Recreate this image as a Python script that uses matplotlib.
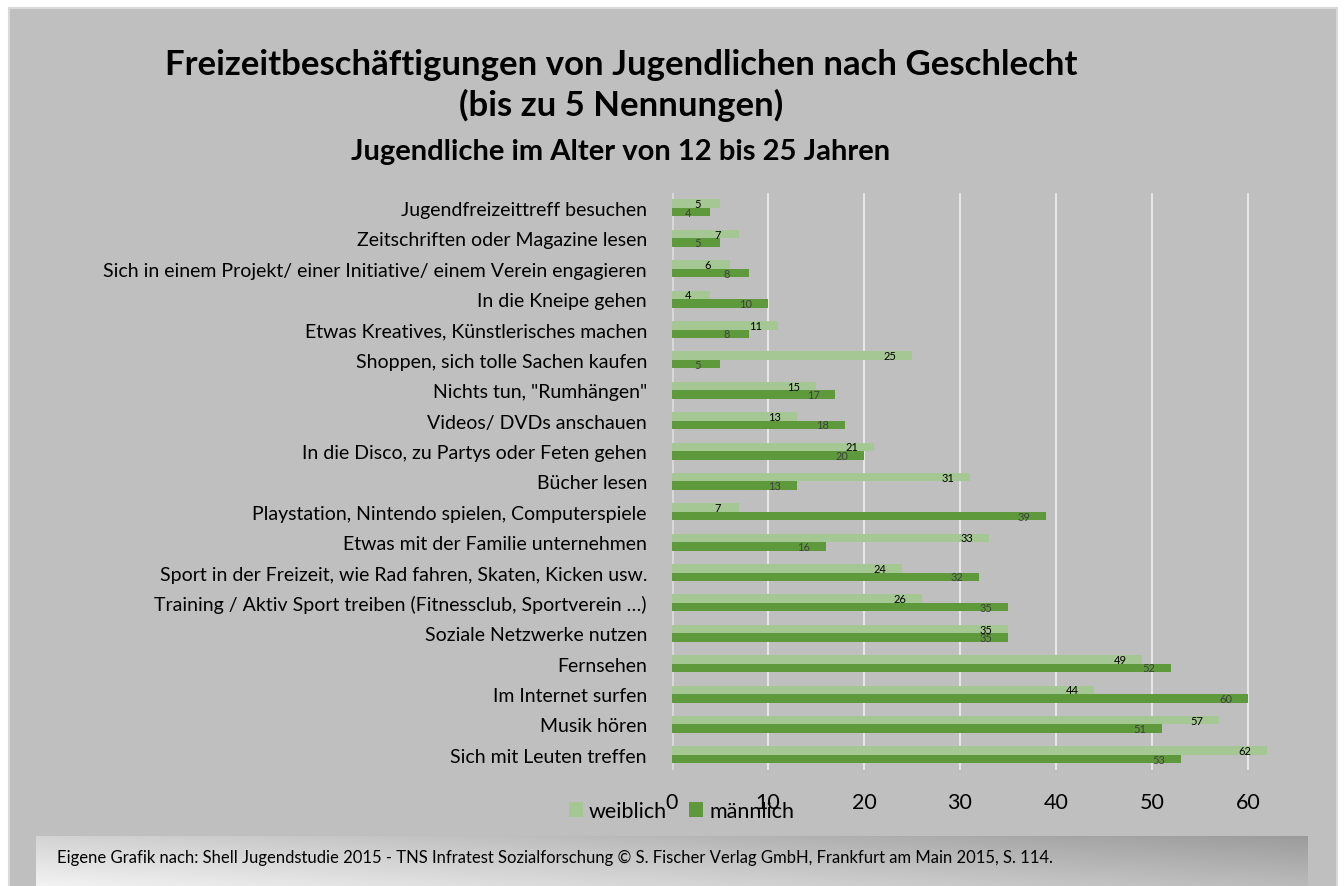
import matplotlib
matplotlib.use("Agg")
import matplotlib.pyplot as plt
import numpy as np
from matplotlib.patches import Rectangle, Patch

plt.rcParams['font.family'] = ['Lato', 'DejaVu Sans']

categories = [
    "Jugendfreizeittreff besuchen",
    "Zeitschriften oder Magazine lesen",
    "Sich in einem Projekt/ einer Initiative/ einem Verein engagieren",
    "In die Kneipe gehen",
    "Etwas Kreatives, Künstlerisches machen",
    "Shoppen, sich tolle Sachen kaufen",
    "Nichts tun, \"Rumhängen\"",
    "Videos/ DVDs anschauen",
    "In die Disco, zu Partys oder Feten gehen",
    "Bücher lesen",
    "Playstation, Nintendo spielen, Computerspiele",
    "Etwas mit der Familie unternehmen",
    "Sport in der Freizeit, wie Rad fahren, Skaten, Kicken usw.",
    "Training / Aktiv Sport treiben (Fitnessclub, Sportverein …)",
    "Soziale Netzwerke nutzen",
    "Fernsehen",
    "Im Internet surfen",
    "Musik hören",
    "Sich mit Leuten treffen",
]
weiblich = [5, 7, 6, 4, 11, 25, 15, 13, 21, 31, 7, 33, 24, 26, 35, 49, 44, 57, 62]
maennlich = [4, 5, 8, 10, 8, 5, 17, 18, 20, 13, 39, 16, 32, 35, 35, 52, 60, 51, 53]
xticks = [0, 10, 20, 30, 40, 50, 60]

W, H = 1344, 887
fig = plt.figure(figsize=(W / 100, H / 100), dpi=100)
fig.patch.set_facecolor('white')

# gray chart area
bg = fig.add_axes([0, 0, 1, 1], zorder=-10)
bg.set_xlim(0, W)
bg.set_ylim(H, 0)
bg.set_axis_off()
bg.add_patch(Rectangle((9, 9), 1337 - 9, H, facecolor='#BFBFBF',
                       edgecolor='#D9D9D9', linewidth=1.5))

# footer gradient box
fx0, fx1, fy0, fy1 = 36, 1308, 837, 887
fax = fig.add_axes([fx0 / W, 1 - fy1 / H, (fx1 - fx0) / W, (fy1 - fy0) / H], zorder=-5)
u = np.linspace(0, 1, 300)[None, :]
v = np.linspace(0, 1, 60)[:, None]  # 0 top, 1 bottom
g = 0.95 - 0.12 * (1 - v) - 0.22 * u
fax.imshow(np.dstack([g, g, g]), aspect='auto', origin='upper', extent=[0, 1, 0, 1])
fax.set_axis_off()
fig.text(57 / W, 1 - 858 / H,
         "Eigene Grafik nach: Shell Jugendstudie 2015 - TNS Infratest Sozialforschung © S. Fischer Verlag GmbH, Frankfurt am Main 2015, S. 114.",
         fontsize=12, va='center', ha='left', color='black')

# main axes
left, right = 672 / W, (672 + 64 * 9.6) / W
ax = fig.add_axes([left, 1 - 771 / H, right - left, (771 - 193.8) / H])
ax.set_facecolor('none')
n = len(categories)
y = np.arange(n)
h = 0.28
ax.barh(y - h / 2, weiblich, height=h, color='#A5C794', label='weiblich', zorder=3)
ax.barh(y + h / 2, maennlich, height=h, color='#5E9A3C', label='männlich', zorder=3)
ax.set_ylim(n - 0.5, -0.5)
ax.set_xlim(0, 64)
ax.set_yticks(y)
ax.set_yticklabels(categories, fontsize=14)
ax.tick_params(axis='y', length=0, pad=18)
ax.set_xticks(xticks)
ax.set_xticklabels([str(v) for v in xticks], fontsize=15.5)
ax.tick_params(axis='x', length=0, pad=16)
for s in ax.spines.values():
    s.set_visible(False)
ax.grid(axis='x', color='#E6E6E6', linewidth=1.5, zorder=1)
ax.axvline(0, color='#D9D9D9', linewidth=2, zorder=2)

for i in range(n):
    ax.annotate(str(weiblich[i]), (weiblich[i], y[i] - h / 2), xytext=(-22, 0),
                textcoords='offset pixels', ha='center', va='center',
                fontsize=8, color='black', zorder=5)
    ax.annotate(str(maennlich[i]), (maennlich[i], y[i] + h / 2), xytext=(-22, 0),
                textcoords='offset pixels', ha='center', va='center',
                fontsize=8, color='#404040', zorder=5)

handles = [Patch(facecolor='#A5C794'), Patch(facecolor='#5E9A3C')]
fig.legend(handles, ['weiblich', 'männlich'], loc='center left',
           bbox_to_anchor=(560 / W, 1 - 812 / H), ncol=2, frameon=False,
           fontsize=15.5, handlelength=0.65, handleheight=0.65, handletextpad=0.3,
           columnspacing=1.0, borderaxespad=0)

# titles
fig.text(621 / W, 1 - 65 / H, "Freizeitbeschäftigungen von Jugendlichen nach Geschlecht",
         ha='center', va='center', fontsize=25, fontweight='bold')
fig.text(621 / W, 1 - 105 / H, "(bis zu 5 Nennungen)",
         ha='center', va='center', fontsize=25, fontweight='bold')
fig.text(621 / W, 1 - 152 / H, "Jugendliche im Alter von 12 bis 25 Jahren",
         ha='center', va='center', fontsize=21, fontweight='bold')

fig.savefig('out.png', dpi=100, facecolor=fig.get_facecolor())
